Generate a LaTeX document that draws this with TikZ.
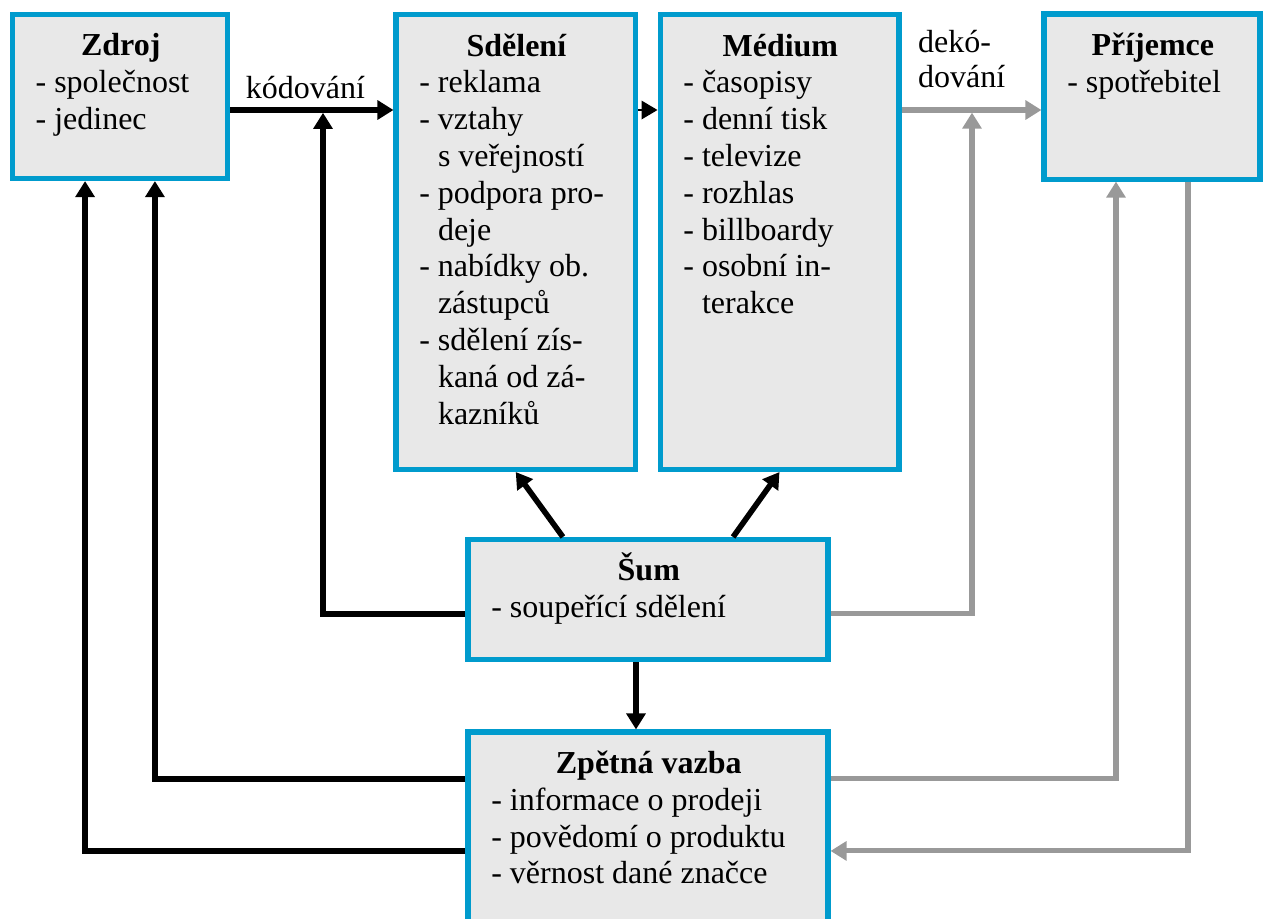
\documentclass[tikz,border=0pt]{standalone}
\usepackage{fontspec}
\setmainfont{LiberationSerif}[Extension=.ttf, UprightFont=*-Regular, BoldFont=*-Bold, ItalicFont=*-Italic, BoldItalicFont=*-BoldItalic]
\usetikzlibrary{arrows.meta}
\definecolor{boxblue}{RGB}{0,155,205}
\definecolor{boxfill}{RGB}{232,232,232}
\definecolor{arrgray}{RGB}{153,153,153}
\newcommand{\boxtitle}[2]{\makebox[#1]{\rule{0pt}{12pt}\textbf{#2}}}

\begin{document}
\begin{tikzpicture}[auto, x=0.375pt, y=-0.375pt,
  font=\fontsize{12}{13.8}\selectfont,
  >={Triangle[length=6pt, width=7pt]},
  block/.style={draw=boxblue, fill=boxfill, line width=1.9pt, inner sep=0pt},
  blocktext/.style={anchor=north west, inner sep=0pt, align=left},
  arr/.style={->, line width=2.1pt},
  grayarr/.style={->, line width=1.9pt, draw=arrgray}]
  \useasboundingbox (0,0) rectangle (1266,919);

  \node[block, minimum width=80.8pt, minimum height=61.5pt] (zdroj) at (120, 96.5) {};
  \node[block, minimum width=89.8pt, minimum height=170.6pt] (sdeleni) at (515.75, 242) {};
  \node[block, minimum width=89.6pt, minimum height=170.6pt] (medium) at (779.5, 242) {};
  \node[block, minimum width=81pt, minimum height=61.9pt] (prijemce) at (1152, 96.5) {};
  \node[block, minimum width=135pt, minimum height=45pt] (sum) at (648, 599.5) {};
  \node[block, minimum width=135pt, minimum height=78pt] (zpetna) at (648, 836) {};

  \node[blocktext] (zdrojtext) at ([xshift=9.5pt, yshift=-4.3pt]zdroj.north west)
    {\boxtitle{63.9pt}{Zdroj}\\-~společnost\\-~jedinec};
  \node[blocktext] (sdelenitext) at ([xshift=9.5pt, yshift=-4.3pt]sdeleni.north west)
    {\boxtitle{72.9pt}{Sdělení}\\-~reklama\\-~vztahy\\\phantom{-~}s veřejností\\-~podpora pro-\\\phantom{-~}deje\\-~nabídky ob.\\\phantom{-~}zástupců\\-~sdělení zís-\\\phantom{-~}kaná od zá-\\\phantom{-~}kazníků};
  \node[blocktext] (mediumtext) at ([xshift=9.5pt, yshift=-4.3pt]medium.north west)
    {\boxtitle{72.75pt}{Médium}\\-~časopisy\\-~denní tisk\\-~televize\\-~rozhlas\\-~billboardy\\-~osobní in-\\\phantom{-~}terakce};
  \node[blocktext] (prijemcetext) at ([xshift=9.5pt, yshift=-4.3pt]prijemce.north west)
    {\boxtitle{64.1pt}{Příjemce}\\-~spotřebitel};
  \node[blocktext] (sumtext) at ([xshift=9.5pt, yshift=-4.3pt]sum.north west)
    {\boxtitle{118.1pt}{Šum}\\-~soupeřící sdělení};
  \node[blocktext] (zpetnatext) at ([xshift=9.5pt, yshift=-4.3pt]zpetna.north west)
    {\boxtitle{118.1pt}{Zpětná vazba}\\-~informace o prodeji\\-~povědomí o produktu\\-~věrnost dané značce};

  \coordinate (lvl) at (0,110);
  \coordinate (kod) at (323,112.8);
  \coordinate (dek) at (972,112.6);

  \draw[arr] (zdroj.east |- lvl) to node[pos=0.46] {kódování} (sdeleni.west |- lvl);
  \draw[->, line width=0.5pt] (sdeleni.east |- lvl) to (medium.west |- lvl);
  \draw[grayarr] (medium.east |- lvl) to node[pos=0.43, above=4pt, align=left] {dekó-\\[-0.7pt]dování} (prijemce.west |- lvl);

  \draw[arr] ([yshift=-5.4pt]sum.west) -| (kod);
  \draw[grayarr] ([yshift=-5.4pt]sum.east) -| (dek);
  \draw[arr] ([xshift=-31.9pt]sum.north) to (sdeleni.south);
  \draw[arr] ([xshift=31.9pt]sum.north) to (medium.south);
  \draw[arr] ([xshift=-4.5pt]sum.south) to ([xshift=-4.5pt]zpetna.north);

  \draw[arr] ([yshift=21.4pt]zpetna.west) -| ([xshift=13.1pt]zdroj.south);
  \draw[arr] ([yshift=-5.6pt]zpetna.west) -| ([xshift=-13.1pt]zdroj.south);
  \draw[grayarr] ([yshift=21.4pt]zpetna.east) -| ([xshift=-13.5pt]prijemce.south);
  \draw[grayarr] ([xshift=13.5pt]prijemce.south) |- ([yshift=-5.6pt]zpetna.east);
\end{tikzpicture}
\end{document}
